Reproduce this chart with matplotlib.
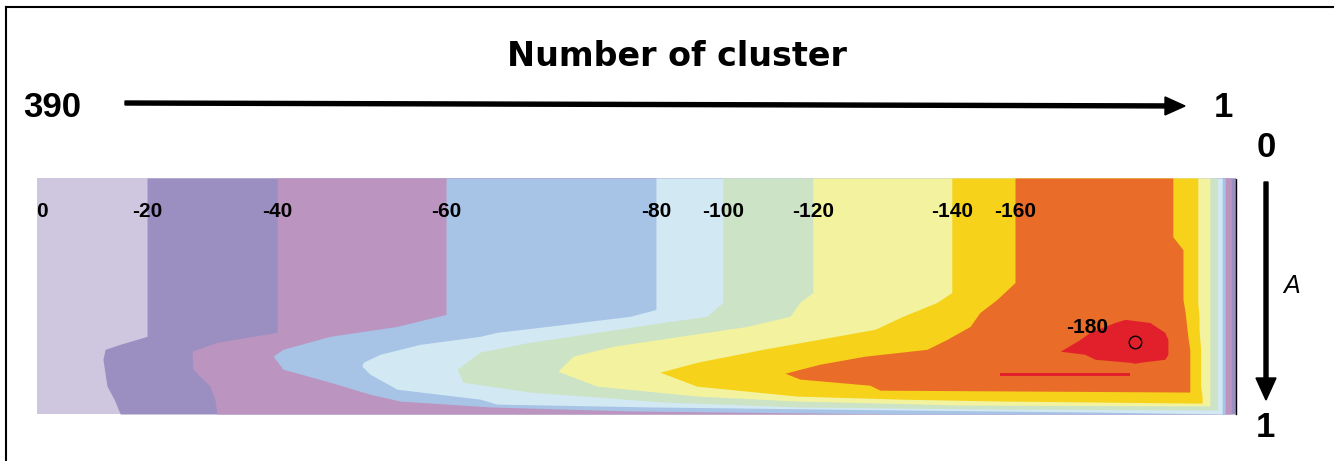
import matplotlib
matplotlib.use("Agg")
import matplotlib.pyplot as plt
from matplotlib.patches import FancyArrow

plt.rcParams["font.family"] = ["Liberation Sans", "DejaVu Sans"]

# contour levels and their fill colours (value below level)
levels = [0, -20, -40, -60, -80, -100, -120, -140, -160, -180]
colors = ["#cfc6e0", "#9b8ec1", "#bb95c0", "#a7c4e7", "#d2e8f3",
          "#cde3c5", "#f3f39f", "#f6d21a", "#e96c28", "#e2202b"]

# region boundaries: A values, left / right edge in clusters
A20 = [0, 0.671, 0.705, 0.726, 0.768, 0.882, 0.937, 1.0]
L20 = [354.3, 354.3, 363.1, 367.9, 368.6, 367.3, 365.0, 363.0]
R20 = [1.0] * len(A20)

A40 = [0, 0.654, 0.696, 0.734, 0.810, 0.882, 0.937, 1.0]
L40 = [312.1, 312.1, 331.6, 339.7, 339.4, 333.9, 332.3, 331.6]
R40 = [2.5] * len(A40)

A60 = [0, 0.578, 0.629, 0.671, 0.726, 0.755, 0.810, 0.865, 0.916, 0.945, 0.970, 0.987, 1.0]
L60 = [257.3, 257.3, 273.2, 295.0, 310.2, 313.4, 310.2, 295.0, 282.0, 272.2, 243.0, 197.6, 110.0]
R60 = [4.5] * len(A60)

A80 = [0, 0.557, 0.586, 0.629, 0.654, 0.671, 0.705, 0.747, 0.781, 0.797,
       0.831, 0.895, 0.937, 0.958, 0.970, 0.983, 0.992, 1.0]
L80 = [189.2, 189.2, 197.6, 224.5, 240.8, 246.3, 265.8, 278.7, 284.2, 284.6,
       282.0, 273.2, 246.3, 240.8, 191.1, 110.0, 45.2, 5.5]
R80 = [5.5] * len(A80)

A100 = [0, 0.527, 0.586, 0.612, 0.654, 0.696, 0.738, 0.810, 0.865, 0.907,
        0.949, 0.970, 0.979, 0.983]
L100 = [167.5, 167.5, 172.6, 186.9, 208.3, 230.1, 246.3, 253.7, 251.8, 230.1,
        186.9, 143.5, 80.0, 7.0]
R100 = [7.0] * len(A100)

A120 = [0, 0.485, 0.527, 0.586, 0.629, 0.671, 0.713, 0.755, 0.819, 0.882,
        0.924, 0.945, 0.962, 0.966]
L120 = [138.3, 138.3, 142.5, 145.7, 159.7, 181.4, 203.1, 216.1, 221.0, 208.3,
        175.9, 143.5, 90.0, 9.5]
R120 = [9.5] * len(A120)

A140 = [0, 0.485, 0.527, 0.586, 0.641, 0.726, 0.781, 0.823, 0.882, 0.924,
        0.937, 0.945, 0.954]
L140 = [93.2, 93.2, 98.0, 109.1, 118.1, 154.5, 175.9, 187.9, 175.9, 143.5,
        110.0, 77.6, 12.0]
R140 = [13.4, 13.4, 13.4, 13.0, 13.0, 12.5, 12.5, 12.5, 12.5, 12.0,
        12.0, 12.0, 12.0]

A160 = [0, 0.249, 0.304, 0.443, 0.515, 0.570, 0.629, 0.684, 0.726, 0.755,
        0.789, 0.827, 0.852, 0.878, 0.899, 0.907]
L160 = [72.7, 72.7, 72.7, 72.7, 78.6, 84.1, 87.3, 94.8, 101.3, 121.4,
        136.0, 147.3, 142.5, 119.8, 116.5, 16.0]
R160 = [21.5, 21.5, 18.2, 18.2, 18.2, 17.5, 17.0, 16.5, 16.0, 16.0,
        16.0, 16.0, 16.0, 16.0, 16.0, 16.0]

A180 = [0.599, 0.612, 0.654, 0.684, 0.734, 0.747, 0.768, 0.781, 0.785]
L180 = [37.0, 40.3, 48.4, 51.6, 58.0, 50.0, 46.8, 35.4, 33.8]
R180 = [37.0, 29.0, 24.1, 23.1, 23.1, 23.1, 24.1, 32.2, 33.8]

A180b = [0.826, 0.828, 0.836, 0.838]
L180b = [77.6, 77.6, 77.6, 77.6]
R180b = [35.4, 35.4, 35.4, 35.4]

regions = [(A20, L20, R20), (A40, L40, R40), (A60, L60, R60), (A80, L80, R80),
           (A100, L100, R100), (A120, L120, R120), (A140, L140, R140),
           (A160, L160, R160), (A180, L180, R180)]

n_max, n_min = 390, 1
best = (33.8, 0.696)   # marked minimum

W, H = 1334, 461
fig = plt.figure(figsize=(W / 100, H / 100), dpi=100)

# overlay in pixel units for the arrows / axis labels
ov = fig.add_axes([0, 0, 1, 1])
ov.set_xlim(0, W)
ov.set_ylim(H, 0)
ov.axis("off")

ax = fig.add_axes([37 / W, 1 - 414 / H, 1199 / W, 236 / H])
ax.fill_betweenx([0, 1], n_max, n_min, color=colors[0], lw=0)
for (a, l, r), c in zip(regions, colors[1:]):
    ax.fill_betweenx(a, l, r, color=c, lw=0)
ax.fill_betweenx(A180b, L180b, R180b, color=colors[-1], lw=0)

ax.set_xlim(n_max, n_min)
ax.set_ylim(1, 0)
ax.set_xticks([])
ax.set_yticks([])
for s in ["top", "left", "bottom"]:
    ax.spines[s].set_visible(False)
ax.spines["right"].set_linewidth(1.0)
ax.spines["right"].set_linestyle((0, (1, 1)))

# contour labels
ax.text(n_max - 1.5, 0.14, "0", fontsize=15, fontweight="bold", ha="center", va="center")
for (a, l, r), lev in zip(regions[:-1], levels[1:-1]):
    ax.text(l[0], 0.14, str(lev), fontsize=15, fontweight="bold", ha="center", va="center")
ax.text(49.4, 0.633, str(levels[-1]), fontsize=15, fontweight="bold", ha="center", va="center")
ax.plot(best[0], best[1], "o", ms=9, mfc="none", mec="black", mew=1.0)

# axis annotations
ov.text(677, 57, "Number of cluster", fontsize=24, fontweight="bold", ha="center", va="center",
        family="DejaVu Sans")
ov.text(52, 107, str(n_max), fontsize=25, fontweight="bold", ha="center", va="center")
ov.text(1223, 107, str(n_min), fontsize=25, fontweight="bold", ha="center", va="center")
ov.text(1266, 147, "0", fontsize=25, fontweight="bold", ha="center", va="center")
ov.text(1265, 427, "1", fontsize=25, fontweight="bold", ha="center", va="center")
ov.text(1292, 286, "A", fontsize=18, fontstyle="italic", ha="center", va="center")

ov.add_patch(FancyArrow(125, 103, 1060, 3, width=4, head_width=18, head_length=20,
                        length_includes_head=True, color="black"))
ov.add_patch(FancyArrow(1266, 182, 0, 218, width=4, head_width=20, head_length=22,
                        length_includes_head=True, color="black"))

# outer frame (partly cropped in the original)
ov.plot([6, 6], [H, 7], color="black", lw=1.5)
ov.plot([6, W], [7, 7], color="black", lw=1.5)

fig.savefig("out.png", dpi=100)
